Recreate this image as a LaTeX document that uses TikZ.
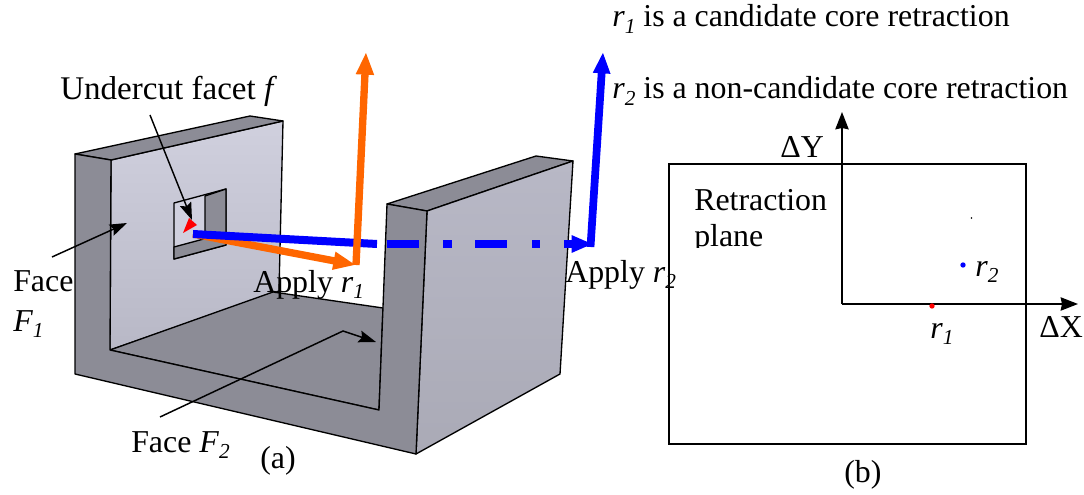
\documentclass[tikz,border=0pt]{standalone}
\usepackage{fontspec}
\setmainfont{Liberation Serif}
\usepackage{xcolor}
\usetikzlibrary{arrows.meta, positioning, calc}
\definecolor{myorange}{RGB}{255,102,0}
\definecolor{myblue}{RGB}{0,0,255}
\definecolor{myred}{RGB}{255,0,0}
\definecolor{mygrey}{RGB}{140,140,150}
\definecolor{wallhi}{RGB}{208,208,222}
\definecolor{walllo}{RGB}{184,184,198}
\definecolor{sidehi}{RGB}{184,184,198}
\definecolor{sidelo}{RGB}{170,170,182}
\newcommand{\subvar}[2]{\textit{#1}\raisebox{-0.2em}{\fontsize{16}{16}\selectfont\itshape #2}}
\tikzset{
  label/.style={font=\fontsize{23.9}{28}\selectfont, inner sep=0pt, anchor=base west},
  face/.style={draw=black, line width=1pt, line join=round},
  greyface/.style={face, fill=mygrey},
  leader/.style={-{Stealth[length=13pt, width=9pt, inset=2pt]}, line width=1.1pt, color=black},
  axis/.style={-{Stealth[length=13pt, width=10pt, inset=1pt]}, line width=1.3pt, color=black},
  orangearrow/.style={-{Triangle[length=17pt, width=12.5pt]}, line width=5.5pt, color=myorange},
  bluearrow/.style={-{Triangle[length=16pt, width=12pt]}, line width=5.8pt, color=myblue},
  bluedash/.style={line width=6pt, color=myblue},
  plotdot/.style={circle, inner sep=0pt, minimum size=4pt}
}
\begin{document}
\begin{tikzpicture}[x=0.75pt, y=-0.75pt]
  \useasboundingbox (0,0) rectangle (1084,495);

  % part (a), the solid
  \draw[face, top color=wallhi, bottom color=walllo] (111,160) -- (283,121) -- (279,291) -- (110,350) -- cycle;
  \draw[greyface] (273,292) -- (383,308) -- (379,410) -- (110,350) -- cycle;
  \draw[greyface] (75,154) -- (250,116) -- (283,121) -- (111,160) -- cycle;
  \draw[greyface] (387,204) -- (536,156) -- (573,161) -- (427,211) -- cycle;
  \draw[face, top color=sidehi, bottom color=sidelo] (427,211) -- (573,161) -- (560,374) -- (416,454) -- cycle;
  \draw[greyface] (75,154) -- (111,160) -- (110,350) -- (379,410) -- (387,204) -- (427,211) -- (416,454) -- (75,374) -- cycle;

  % window in the wall
  \draw[face, fill=wallhi] (174,203) -- (226,189) -- (226,245) -- (174,259) -- cycle;
  \draw[greyface] (205,196) -- (226,189) -- (226,233) -- (205,240) -- cycle;
  \draw[greyface] (174,247) -- (226,233) -- (226,245) -- (174,259) -- cycle;
  \fill[myred] (183,233) -- (189,218) -- (197,225) -- cycle;

  % retraction paths
  \coordinate (start) at (193,234);
  \coordinate (endone) at (356,265);
  \coordinate (topone) at (366,52);
  \coordinate (cutblue) at (377,244);
  \coordinate (endtwo) at (593,244);
  \coordinate (toptwo) at (603,52);
  \draw[orangearrow] (start) -- (endone);
  \draw[bluedash] (start) -- (cutblue);
  \draw[orangearrow] (endone) -- (topone);
  \foreach \xa/\xb in {387/419, 443/452, 475/507, 532/540}
    \draw[bluedash] (\xa,244) -- (\xb,244);
  \draw[bluearrow] (564,244) -- (endtwo);
  \draw[bluearrow] (590.5,247) -- (toptwo);

  % leaders
  \coordinate (undertail) at (150,115);
  \coordinate (underhead) at (192,220);
  \coordinate (oneTail) at (52,257);
  \coordinate (oneHead) at (127,223);
  \coordinate (twoTail) at (160,417);
  \coordinate (twoBend) at (343,331);
  \coordinate (twoHead) at (376,342);
  \draw[leader] (undertail) -- (underhead);
  \draw[leader] (oneTail) -- (oneHead);
  \draw[leader] (twoTail) -- (twoBend) -- (twoHead);

  \node[label, font=\fontsize{24.8}{28}\selectfont] (undercut) at (60,100) {Undercut facet \textit{f}};
  \node[label] (faceone) at (13,291) {Face};
  \node[label] (faceonesym) at (13,331) {\subvar{F}{1}};
  \node[label] (applyone) at (253,292) {Apply \subvar{r}{1}};
  \node[label] (applytwo) at (565,282) {Apply \subvar{r}{2}};
  \node[label] (facetwo) at (131,452) {Face \subvar{F}{2}};
  \node[label] (capa) at (260,468) {(a)};

  % the two statements
  \node[label] (stateone) at (612,27) {\subvar{r}{1} is a candidate core retraction};
  \node[label] (statetwo) at (612,99) {\subvar{r}{2} is a non-candidate core retraction};

  % part (b), the plane
  \draw[black, line width=1.3pt] (669,164) rectangle (1026,444);
  \coordinate (origin) at (842,304);
  \coordinate (ytip) at (842,112);
  \coordinate (xtip) at (1078,304);
  \draw[axis] (origin) -- (ytip);
  \draw[axis] (origin) -- (xtip);
  \node[label] (dy) at (780,158) {ΔY};
  \node[label] (dx) at (1039,337) {ΔX};
  \node[label] (retr) at (694,211) {Retraction};
  \node[label] (plane) at (694,247) {plane};
  \fill[white] (690,248) rectangle (780,258);
  \node[plotdot, fill=myblue] (dottwo) at (963,265) {};
  \node[plotdot, fill=myred] (dotone) at (932,306) {};
  \fill[black] (971.5,218) circle (0.8);
  \node[label] (rtwo) at (975,276) {\subvar{r}{2}};
  \node[label] (rone) at (930,338) {\subvar{r}{1}};
  \node[label] (capb) at (844,482) {(b)};
\end{tikzpicture}
\end{document}
